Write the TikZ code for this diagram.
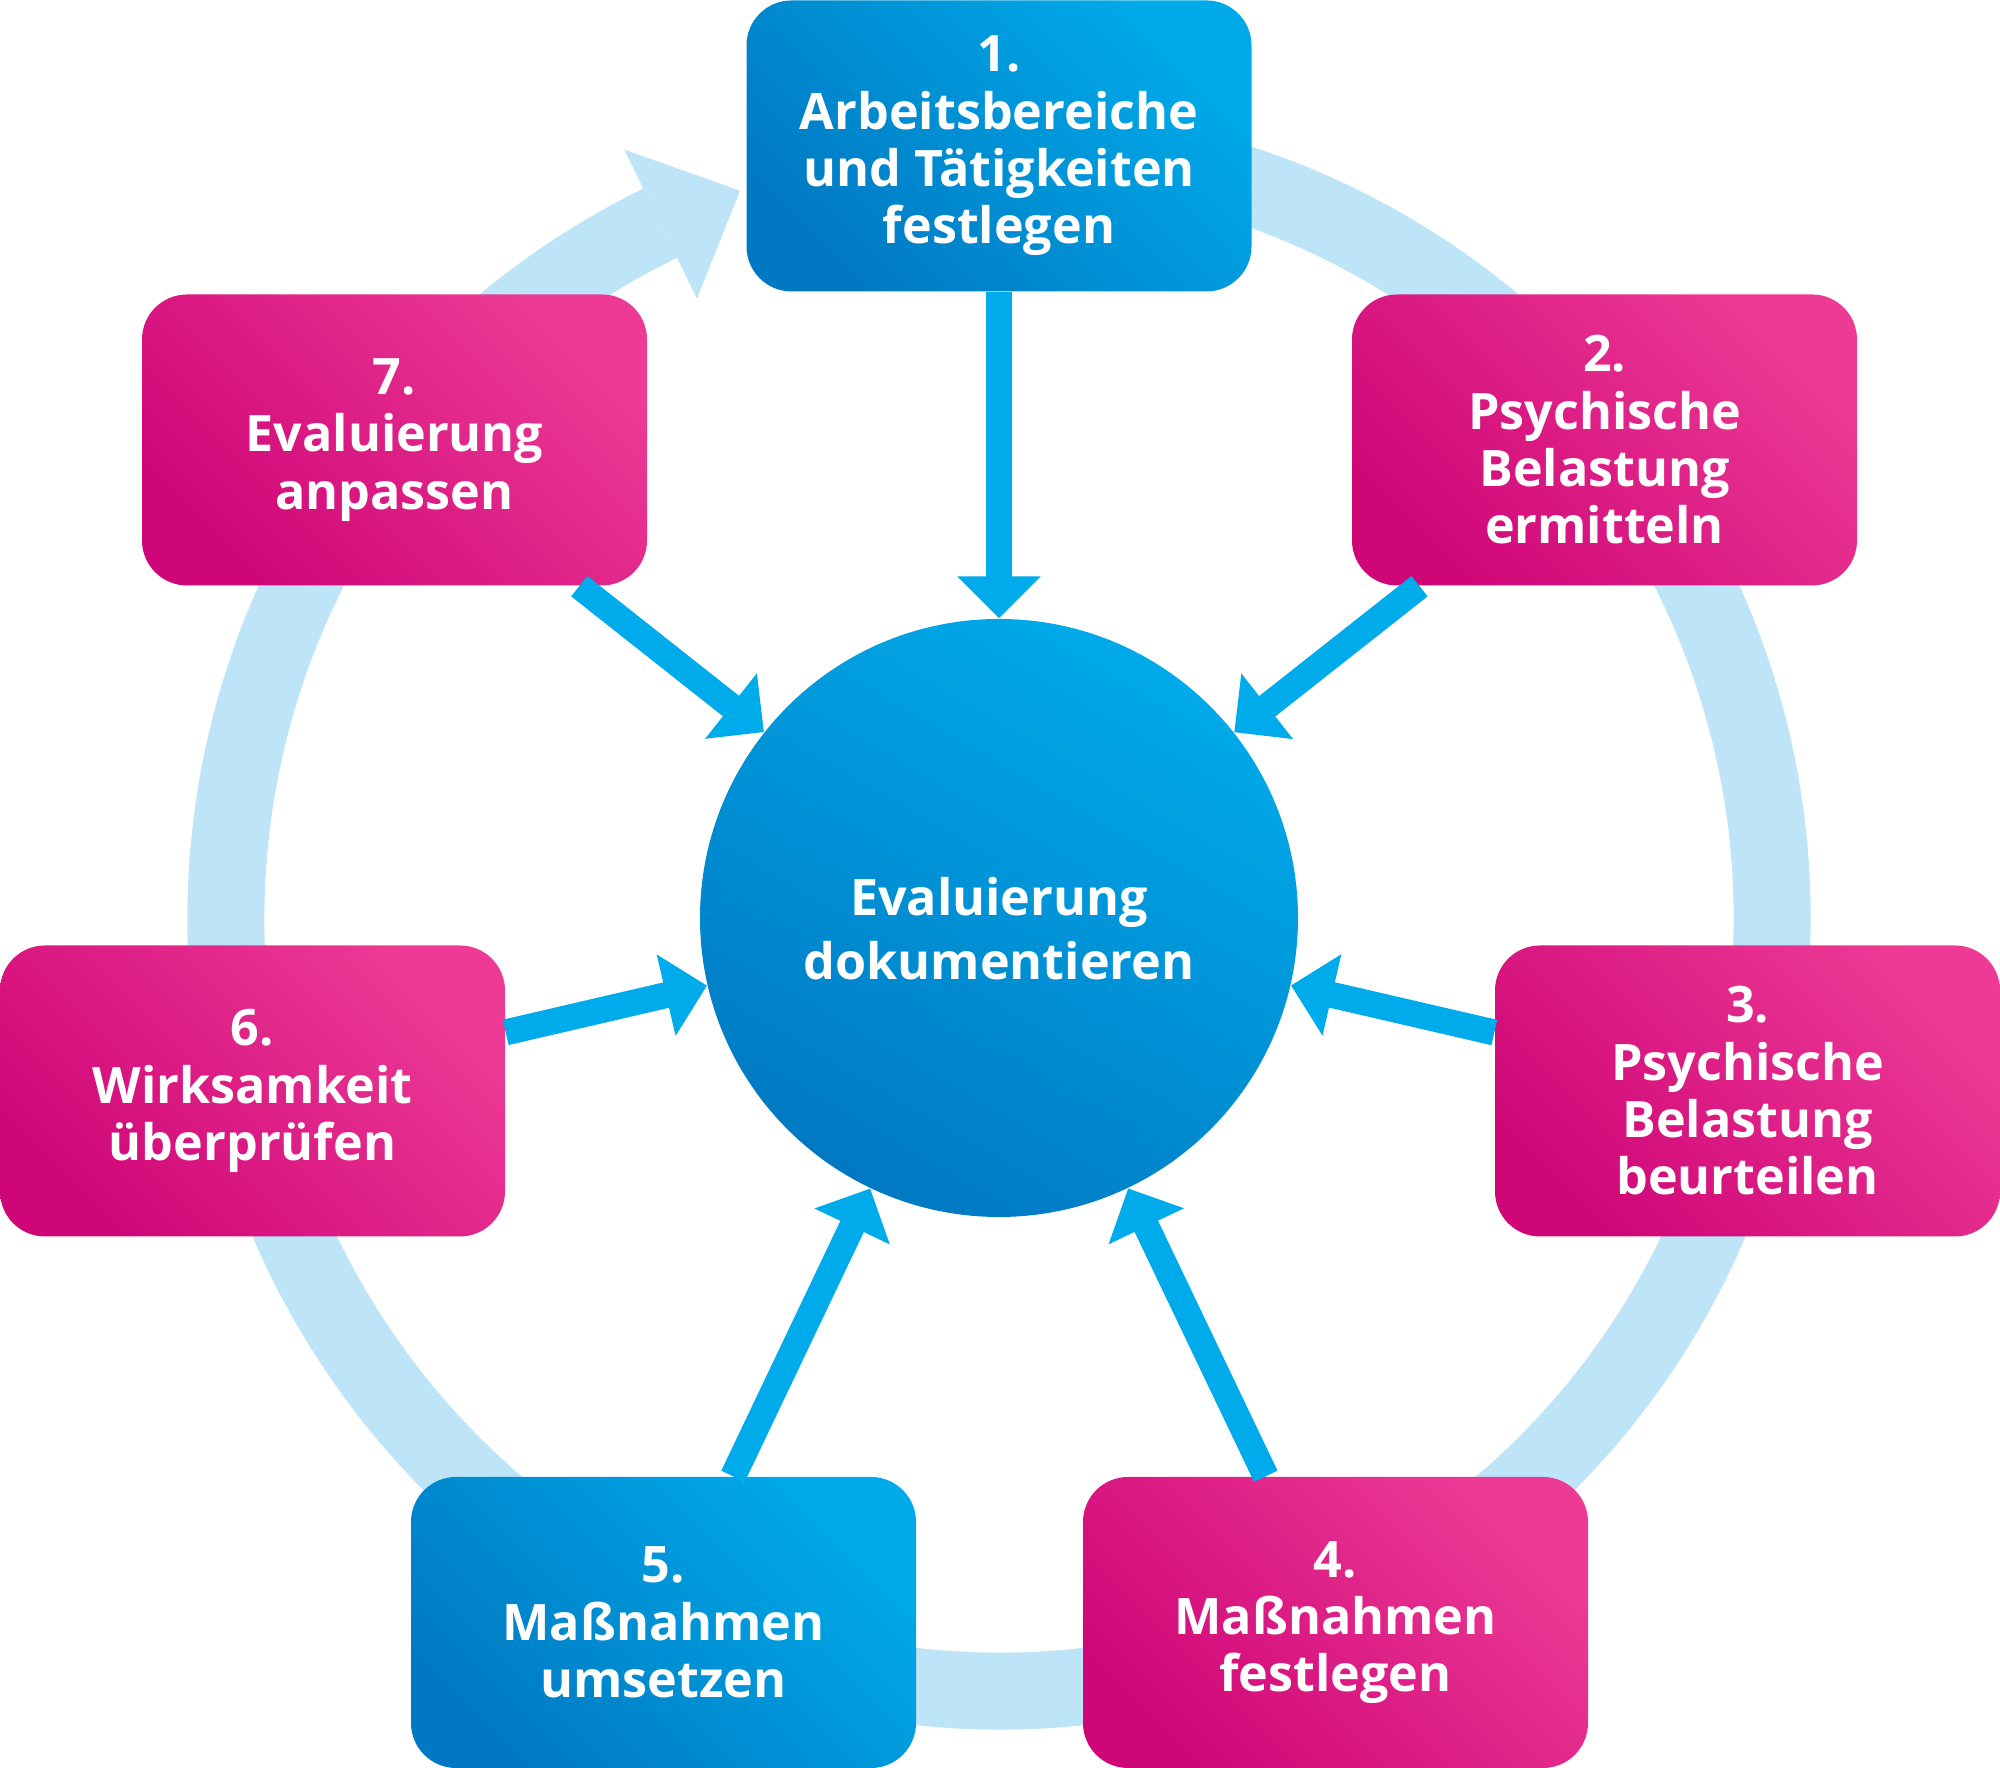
\documentclass[tikz,border=0pt]{standalone}
\usepackage{fontspec}
\setmainfont{Open Sans}
\usepackage{tikz}
\usetikzlibrary{arrows.meta, positioning, calc}

\definecolor{bluedark}{HTML}{0079C2}
\definecolor{bluelight}{HTML}{00AAE9}
\definecolor{pinkdark}{HTML}{CF0677}
\definecolor{pinklight}{HTML}{EC3A95}
\definecolor{spokeblue}{HTML}{00ABEB}
\definecolor{ringblue}{HTML}{BEE4F8}

\tikzset{
  % Step boxes around the hub
  stepbox/.style 2 args={rectangle, rounded corners=0.45cm, minimum width=5.05cm, minimum height=2.91cm, text centered, align=center, top color=#2, bottom color=#1, shading angle=-45, text=white, font=\fontsize{14.3}{16.3}\selectfont\bfseries, inner sep=0pt},
  bluebox/.style={stepbox={bluedark}{bluelight}},
  pinkbox/.style={stepbox={pinkdark}{pinklight}},
  hub/.style={circle, minimum size=5.98cm, inner sep=0pt, align=center, top color=bluelight, bottom color=bluedark, shading angle=-30, text=white, font=\fontsize{14.3}{18.2}\selectfont\bfseries},
  % Connectors
  spoke/.style={-{Triangle[length=0.42cm, width=0.81cm]}, line width=0.26cm, draw=spokeblue},
  ring/.style={draw=ringblue, line width=0.77cm},
}

\begin{document}
\begin{tikzpicture}
  \useasboundingbox (0,0) rectangle (20,17.68);

  % Cycle ring behind the boxes
  \coordinate (c) at (9.99,8.50);
  \draw[ring] ([shift={(80:7.73)}]c) arc[start angle=80, end angle=-244, radius=7.73];
  \fill[ringblue] ([shift={(116:8.55)}]c) -- ([shift={(109.6:7.72)}]c) -- ([shift={(116:6.89)}]c) -- cycle;

  % Hub
  \node[hub] (doku) at (c) {\raisebox{-0.23cm}[0pt][0pt]{\parbox{5cm}{\centering Evaluierung\\dokumentieren}}};

  % Steps
  \node[bluebox] (s1) at (9.99,16.22) {1.\\Arbeitsbereiche\\und Tätigkeiten\\festlegen};
  \node[pinkbox] (s2) at (16.045,13.28) {2.\\Psychische\\Belastung\\ermitteln};
  \node[pinkbox] (s3) at (17.475,6.77) {3.\\Psychische\\Belastung\\beurteilen};
  \node[pinkbox] (s4) at (13.355,1.455) {4.\\Maßnahmen\\festlegen};
  \node[bluebox] (s5) at (6.635,1.455) {5.\\Maßnahmen\\umsetzen};
  \node[pinkbox] (s6) at (2.525,6.77) {6.\\Wirksamkeit\\überprüfen};
  \node[pinkbox] (s7) at (3.945,13.28) {7.\\Evaluierung\\anpassen};

  % Spokes into the hub
  \foreach \s in {s1,s2,s3,s4,s5,s6,s7} {
    \draw[spoke] (\s) -- (doku);
  }
\end{tikzpicture}
\end{document}
